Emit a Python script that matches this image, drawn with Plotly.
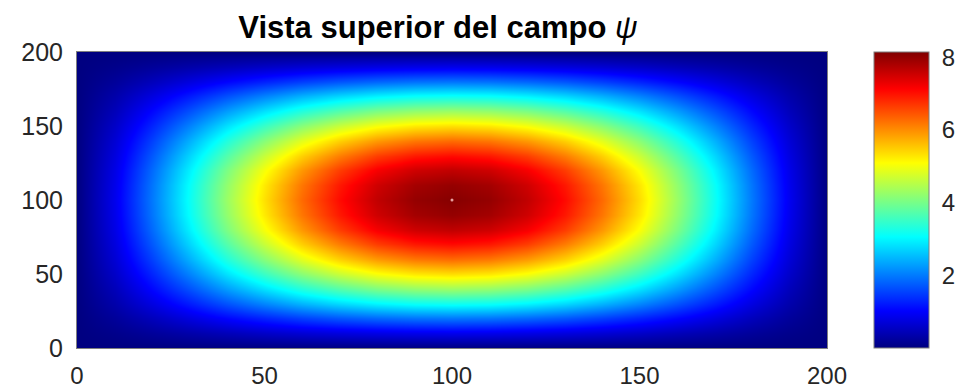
import plotly.graph_objects as go

# Grid coordinates (data units)
x_vals = [0, 10, 20, 30, 40, 50, 60, 70, 80, 90, 100, 110, 120, 130, 140, 150, 160, 170, 180, 190, 200]
y_vals = [0, 10, 20, 30, 40, 50, 60, 70, 80, 90, 100, 110, 120, 130, 140, 150, 160, 170, 180, 190, 200]

# Field psi (rows follow y_vals, columns follow x_vals)
r00 = [0] * 21
r01 = [0, 0.09, 0.21, 0.34, 0.46, 0.58, 0.68, 0.76, 0.82, 0.86, 0.88, 0.86, 0.82, 0.76, 0.68, 0.58, 0.46, 0.34, 0.21, 0.09, 0]
r02 = [0, 0.21, 0.48, 0.77, 1.05, 1.30, 1.53, 1.72, 1.86, 1.95, 1.98, 1.95, 1.86, 1.72, 1.53, 1.30, 1.05, 0.77, 0.48, 0.21, 0]
r03 = [0, 0.34, 0.77, 1.22, 1.66, 2.07, 2.44, 2.74, 2.96, 3.10, 3.14, 3.10, 2.96, 2.74, 2.44, 2.07, 1.66, 1.22, 0.77, 0.34, 0]
r04 = [0, 0.46, 1.05, 1.66, 2.27, 2.83, 3.33, 3.73, 4.04, 4.22, 4.29, 4.22, 4.04, 3.73, 3.33, 2.83, 2.27, 1.66, 1.05, 0.46, 0]
r05 = [0, 0.58, 1.30, 2.07, 2.83, 3.53, 4.15, 4.66, 5.04, 5.27, 5.35, 5.27, 5.04, 4.66, 4.15, 3.53, 2.83, 2.07, 1.30, 0.58, 0]
r06 = [0, 0.68, 1.53, 2.44, 3.33, 4.15, 4.88, 5.48, 5.92, 6.19, 6.29, 6.19, 5.92, 5.48, 4.88, 4.15, 3.33, 2.44, 1.53, 0.68, 0]
r07 = [0, 0.76, 1.72, 2.74, 3.73, 4.66, 5.48, 6.14, 6.65, 6.95, 7.06, 6.95, 6.65, 6.14, 5.48, 4.66, 3.73, 2.74, 1.72, 0.76, 0]
r08 = [0, 0.82, 1.86, 2.96, 4.04, 5.04, 5.92, 6.65, 7.19, 7.52, 7.63, 7.52, 7.19, 6.65, 5.92, 5.04, 4.04, 2.96, 1.86, 0.82, 0]
r09 = [0, 0.86, 1.95, 3.10, 4.22, 5.27, 6.19, 6.95, 7.52, 7.86, 7.98, 7.86, 7.52, 6.95, 6.19, 5.27, 4.22, 3.10, 1.95, 0.86, 0]
r10 = [0, 0.88, 1.98, 3.14, 4.29, 5.35, 6.29, 7.06, 7.63, 7.98, 8.10, 7.98, 7.63, 7.06, 6.29, 5.35, 4.29, 3.14, 1.98, 0.88, 0]
psi = [r00, r01, r02, r03, r04, r05, r06, r07, r08, r09, r10,
       r09, r08, r07, r06, r05, r04, r03, r02, r01, r00]

x_ticks = [0, 50, 100, 150, 200]
y_ticks = [0, 50, 100, 150, 200]
cbar_ticks = [2, 4, 6, 8]

center_x = [100]
center_y = [100]

jet = [
    [0.0, "rgb(0,0,128)"],
    [0.125, "rgb(0,0,255)"],
    [0.375, "rgb(0,255,255)"],
    [0.625, "rgb(255,255,0)"],
    [0.875, "rgb(255,0,0)"],
    [1.0, "rgb(128,0,0)"],
]

FONT = "Liberation Sans, Arial, Helvetica, sans-serif"
TICK_COLOR = "#262626"

fig = go.Figure()
fig.add_trace(go.Heatmap(
    x=x_vals, y=y_vals, z=psi,
    zsmooth="best",
    colorscale=jet, zmin=0, zmax=8.15,
    colorbar=dict(
        x=1.0627, xanchor="left", xpad=0,
        y=0.5, yanchor="middle", len=1.0, lenmode="fraction", ypad=0,
        thickness=55, thicknessmode="pixels",
        outlinecolor="#7f7f7f", outlinewidth=1,
        tickvals=cbar_ticks, ticks="outside", ticklen=8,
        tickcolor="rgba(0,0,0,0)",
        tickfont=dict(family=FONT, size=24, color=TICK_COLOR),
    ),
    hoverinfo="skip",
))
fig.add_trace(go.Scatter(
    x=center_x, y=center_y, mode="markers",
    marker=dict(size=3, color="#e8a0a0"),
    showlegend=False, hoverinfo="skip",
))

fig.update_layout(
    width=961, height=391,
    margin=dict(l=77, r=134, t=52, b=43, autoexpand=False),
    paper_bgcolor="white", plot_bgcolor="white",
    title=dict(
        text="<b>Vista superior del campo</b> <i>ψ</i>",
        x=0.4813, xref="paper", xanchor="center",
        y=1 - 27 / 391, yref="container", yanchor="middle",
        font=dict(family=FONT, size=31, color="black"),
    ),
    showlegend=False,
)
fig.update_xaxes(
    range=[0, 200], tickvals=x_ticks, showgrid=False, zeroline=False,
    showline=True, linecolor="#7f7f7f", linewidth=1, mirror=True,
    ticks="", ticklabelstandoff=6, automargin=False,
    tickfont=dict(family=FONT, size=24, color=TICK_COLOR),
)
fig.update_yaxes(
    range=[0, 200], tickvals=y_ticks, showgrid=False, zeroline=False,
    showline=True, linecolor="#7f7f7f", linewidth=1, mirror=True,
    ticks="", ticklabelstandoff=8, automargin=False,
    tickfont=dict(family=FONT, size=25, color=TICK_COLOR),
)

fig.write_html(
    "out.html",
    config={"displayModeBar": False},
    post_script="document.body.style.margin='0px';",
)
